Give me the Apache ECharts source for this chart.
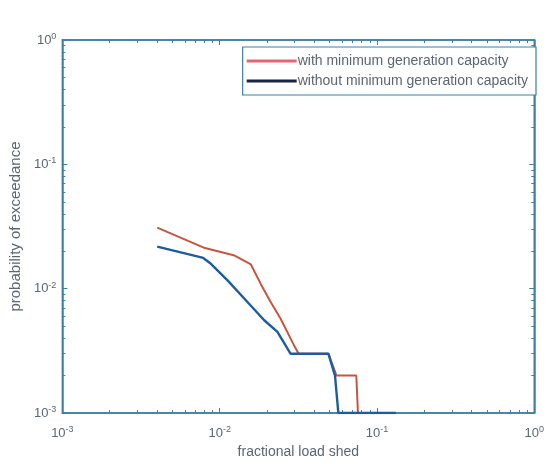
<!DOCTYPE html>
<html>
<head>
<meta charset="utf-8">
<script src="https://cdn.jsdelivr.net/npm/echarts@6/dist/echarts.min.js"></script>
<style>
  html, body { margin: 0; padding: 0; background: #fff; }
  #chart { width: 547px; height: 464px; }
</style>
</head>
<body>
<div id="chart"></div>
<script>
// load shed (x) vs probability of exceedance (y)
const withMinX = [0.00401, 0.00806, 0.01245, 0.0158, 0.01828, 0.02114, 0.02437, 0.0296, 0.0318, 0.0491, 0.0553, 0.0739, 0.0757, 0.132]
const withMinY = [0.0310, 0.0212, 0.01845, 0.01566, 0.01087, 0.00778, 0.00576, 0.00353, 0.003, 0.003, 0.002, 0.002, 0.001, 0.001]
const withoutMinX = [0.00401, 0.00787, 0.00867, 0.0113, 0.01507, 0.0192, 0.0233, 0.0282, 0.0491, 0.0541, 0.0568, 0.132]
const withoutMinY = [0.0218, 0.01766, 0.0161, 0.01156, 0.00778, 0.00557, 0.0045, 0.003, 0.003, 0.002, 0.001, 0.001]
const seriesNames = ['with minimum generation capacity', 'without minimum generation capacity']

const axisColor = '#3f7fa3'
const textColor = '#5a6672'
const font = 'Liberation Sans'

const pairs = (xs, ys) => xs.map((x, i) => [x, ys[i]])

const powLabel = (v) => {
  const e = Math.round(Math.log10(v))
  return '10{sup|' + e + '}'
}
const labelRich = {
  sup: { fontSize: 9, verticalAlign: 'top', color: textColor, fontFamily: font, padding: [0, 0, 7, 0] }
}

const frameAxis = {
  type: 'log',
  logBase: 10,
  min: 0.001,
  max: 1,
  axisLine: { show: true, lineStyle: { color: axisColor, width: 1.5 } },
  axisTick: { show: true, inside: true, length: 5, lineStyle: { color: axisColor } },
  minorTick: { show: true, splitNumber: 9, length: 3, lineStyle: { color: axisColor } },
  splitLine: { show: false },
  minorSplitLine: { show: false }
}

let charts = echarts.init(document.getElementById('chart'))
let options = {
  animation: false,
  backgroundColor: '#fff',
  textStyle: { fontFamily: font },
  grid: {
    left: 62, right: 6, top: 40, bottom: 45,
    show: true, borderColor: axisColor, borderWidth: 1.5, backgroundColor: '#fff'
  },
  legend: {
    right: 11,
    top: 47,
    orient: 'vertical',
    icon: 'rect',
    itemWidth: 50,
    itemHeight: 3,
    itemGap: 6,
    padding: [7, 8, 7, 4],
    borderColor: axisColor,
    borderWidth: 1.2,
    backgroundColor: '#fff',
    textStyle: { color: textColor, fontSize: 14, fontFamily: font, padding: [0, 0, 0, -4] },
    data: [
      { name: seriesNames[0], itemStyle: { color: '#e8646e' } },
      { name: seriesNames[1], itemStyle: { color: '#1a2545' } }
    ]
  },
  xAxis: [
    Object.assign({}, frameAxis, {
      position: 'bottom',
      name: 'fractional load shed',
      nameLocation: 'middle',
      nameGap: 32,
      nameTextStyle: { color: textColor, fontSize: 14, fontFamily: font },
      axisLabel: { color: textColor, fontSize: 13, fontFamily: font, margin: 12, formatter: powLabel, rich: labelRich }
    }),
    Object.assign({}, frameAxis, { position: 'top', axisLabel: { show: false } })
  ],
  yAxis: [
    Object.assign({}, frameAxis, {
      position: 'left',
      name: 'probability of exceedance',
      nameLocation: 'middle',
      nameGap: 37,
      nameTextStyle: { color: textColor, fontSize: 15, fontFamily: font },
      axisLabel: { color: textColor, fontSize: 13, fontFamily: font, margin: 6, formatter: powLabel, rich: labelRich }
    }),
    Object.assign({}, frameAxis, { position: 'right', axisLabel: { show: false } })
  ],
  series: [
    {
      name: seriesNames[0],
      type: 'line',
      showSymbol: false,
      data: pairs(withMinX, withMinY),
      lineStyle: { color: '#c4573f', width: 2 },
      itemStyle: { color: '#c4573f' },
      z: 2
    },
    {
      name: seriesNames[1],
      type: 'line',
      showSymbol: false,
      data: pairs(withoutMinX, withoutMinY),
      lineStyle: { color: '#1f5c9e', width: 2.4 },
      itemStyle: { color: '#1f5c9e' },
      z: 3
    }
  ]
}
charts.setOption(options)
</script>
</body>
</html>
